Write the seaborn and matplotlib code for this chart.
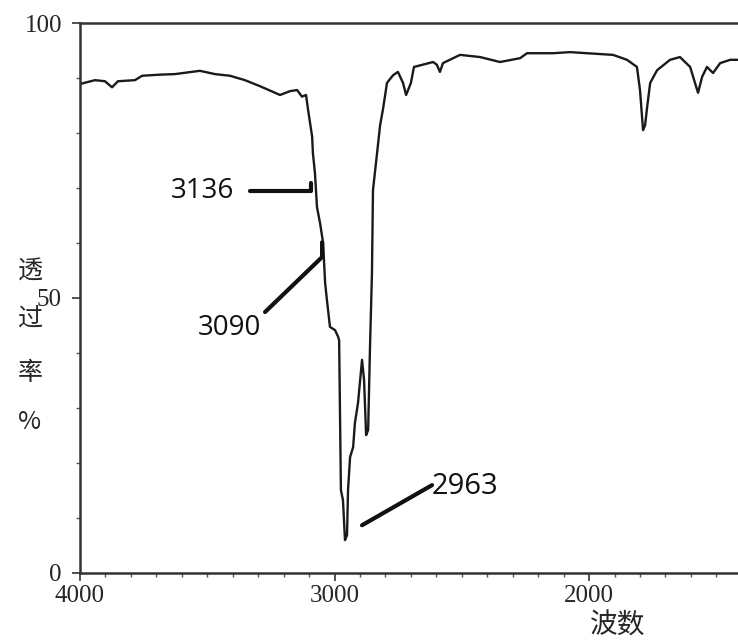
import seaborn as sns
import pandas as pd
import matplotlib.pyplot as plt
from matplotlib.ticker import MultipleLocator

sns.set_style("ticks")
plt.rcParams['font.family'] = ['Liberation Serif', 'DejaVu Sans']

# 波数 (cm-1) 与 透过率 (%)
wavenumber = [4000, 3941, 3902, 3874, 3851, 3784, 3756, 3686, 3627, 3529,
              3470, 3411, 3352, 3293, 3214, 3175, 3147, 3128, 3112, 3104,
              3088, 3085, 3077, 3069, 3057, 3045, 3037, 3030, 3018, 2998,
              2986, 2982, 2975, 2967, 2959, 2951, 2947, 2939, 2927, 2920,
              2908, 2892, 2884, 2876, 2868, 2861, 2853, 2849, 2833, 2821,
              2809, 2794, 2770, 2751, 2731, 2719, 2711, 2700, 2688, 2613,
              2598, 2586, 2574, 2507, 2428, 2350, 2271, 2244, 2142, 2075,
              2008, 1906, 1851, 1812, 1800, 1788, 1780, 1772, 1760, 1733,
              1682, 1643, 1603, 1584, 1572, 1556, 1537, 1513, 1485, 1446,
              1415]
transmittance = [88.9, 89.6, 89.4, 88.3, 89.4, 89.6, 90.4, 90.6, 90.7, 91.3,
                 90.7, 90.4, 89.6, 88.5, 86.9, 87.6, 87.8, 86.6, 86.9, 84.2,
                 79.3, 76.3, 72.7, 66.5, 63.6, 60.0, 52.7, 49.6, 44.7, 44.1,
                 42.9, 42.3, 15.0, 13.2, 5.9, 6.8, 15.0, 21.0, 22.8, 27.2,
                 30.8, 38.7, 35.0, 25.0, 25.9, 40.5, 54.5, 69.6, 76.3, 81.4,
                 84.5, 89.1, 90.5, 91.1, 89.1, 86.9, 87.8, 89.1, 92.0, 92.9,
                 92.4, 91.1, 92.7, 94.2, 93.8, 92.9, 93.6, 94.5, 94.5, 94.7,
                 94.5, 94.2, 93.3, 92.0, 87.8, 80.5, 81.4, 84.7, 89.1, 91.4,
                 93.3, 93.8, 92.0, 89.1, 87.3, 90.2, 92.0, 90.9, 92.7, 93.3,
                 93.3]

# 标注：文字, 文字位置, 指示线的折点
peak_labels = ["3136", "3090", "2963"]
label_pos = [(3517, 69.4), (3411, 44.5), (2617, 15.6)]
label_size = [20, 20, 21]
pointer_lines = [
    [(3332, 69.4), (3092, 69.4), (3092, 70.9)],
    [(3273, 47.4), (3049, 57.4), (3049, 60.1)],
    [(2617, 15.9), (2892, 8.6)],
]

df = pd.DataFrame({"w": wavenumber, "T": transmittance})

fig = plt.figure(figsize=(7.38, 6.4), dpi=100)
ax = fig.add_axes([80 / 738, 67.5 / 640, 658 / 738, 549.5 / 640])

sns.lineplot(data=df, x="w", y="T", sort=False, estimator=None,
             color="#1a1a1a", linewidth=1.7, ax=ax)

for pts in pointer_lines:
    xs = [p[0] for p in pts]
    ys = [p[1] for p in pts]
    ax.plot(xs, ys, color="#111111", linewidth=3.0, solid_capstyle="round")

for txt, (x, y), fs in zip(peak_labels, label_pos, label_size):
    ax.text(x, y, txt, fontsize=fs, family=["Open Sans", "DejaVu Sans"],
            ha="center" if txt != "2963" else "left", va="center", color="#111111")

ax.set_xlim(4000, 1415)
ax.set_ylim(0, 100)
ax.set_xticks([4000, 3000, 2000])
ax.set_yticks([0, 50, 100])
ax.xaxis.set_minor_locator(MultipleLocator(100))
ax.yaxis.set_minor_locator(MultipleLocator(10))
ax.tick_params(which="major", direction="out", length=6, width=1.2,
               labelsize=18, color="#333333")
ax.tick_params(axis="x", which="major", pad=3)
ax.tick_params(axis="y", which="major", pad=7)
ax.tick_params(which="minor", direction="out", length=3, width=1.0, color="#555555")
ax.set_xlabel("")
ax.set_ylabel("")

for side in ["left", "bottom", "top"]:
    ax.spines[side].set_linewidth(1.8)
    ax.spines[side].set_color("#333333")
ax.spines["right"].set_visible(False)

# 纵轴标题，竖排
cjk = ["Noto Sans CJK SC", "DejaVu Sans"]
for ch, ypix in zip(["透", "过", "率", "%"], [271, 320, 373, 422]):
    fig.text(30 / 738, 1 - ypix / 640, ch, fontsize=18, family=cjk,
             ha="center", va="center")
fig.text(618 / 738, 1 - 626 / 640, "波数", fontsize=20, family=cjk,
         ha="center", va="center")

plt.savefig("out.png", dpi=100)
